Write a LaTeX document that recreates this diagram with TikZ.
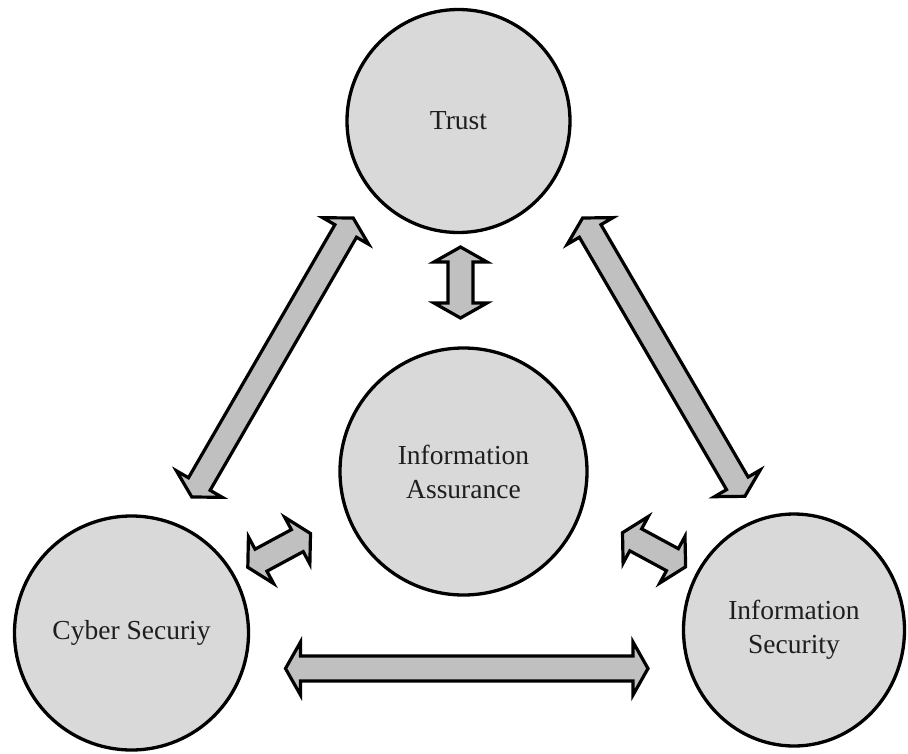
\documentclass[tikz,border=0pt]{standalone}
\usepackage{fontspec}
\setmainfont{Liberation Serif}
\usetikzlibrary{calc,shapes.geometric}
\definecolor{discfill}{RGB}{217,217,217}
\definecolor{arrowfill}{RGB}{192,192,192}
\definecolor{labeltext}{RGB}{30,30,30}

% Block arrow dimensions
\newcommand{\arrowheadlen}{15pt}
\newcommand{\arrowheadhalf}{26.5pt}
\newcommand{\arrowshafthalf}{12.5pt}

% Double-headed block arrow between two named tip coordinates
\newcommand{\blockarrow}[2]{%
  \path ($(#1)!\arrowheadlen!(#2)$) coordinate (#1-h)
        ($(#2)!\arrowheadlen!(#1)$) coordinate (#2-h);
  \draw[arrowbody] (#1)
    -- ($(#1-h)!\arrowheadhalf!90:(#2)$)
    -- ($(#1-h)!\arrowshafthalf!90:(#2)$)
    -- ($(#2-h)!\arrowshafthalf!-90:(#1)$)
    -- ($(#2-h)!\arrowheadhalf!-90:(#1)$)
    -- (#2)
    -- ($(#2-h)!\arrowheadhalf!90:(#1)$)
    -- ($(#2-h)!\arrowshafthalf!90:(#1)$)
    -- ($(#1-h)!\arrowshafthalf!-90:(#2)$)
    -- ($(#1-h)!\arrowheadhalf!-90:(#2)$)
    -- cycle;
}

\begin{document}
\begin{tikzpicture}[x=1pt,y=-1pt,
  disc/.style={circle,draw=black,line width=3.3pt,fill=discfill,inner sep=0pt,
    align=center,text=labeltext,font=\fontsize{27.5}{34}\selectfont},
  arrowbody/.style={draw=black,line width=3.2pt,fill=arrowfill,line join=miter}]
\useasboundingbox (0,0) rectangle (908,753);

% Concepts
\node[disc,minimum size=223pt] (trust) at (458.5,121) {Trust};
\node[disc,minimum size=247pt] (assurance) at (463.5,471.5) {Information\\Assurance};
\node[disc,minimum size=234pt] (cyber) at (131.5,633) {Cyber Securiy};
\node[disc,ellipse,minimum width=221pt,minimum height=232pt] (infosec) at (794,630) {Information\\Security};

% Arrow tips
\coordinate (tl-a) at (353.2,218);
\coordinate (tl-b) at (191.8,497);
\coordinate (tr-a) at (582.6,218);
\coordinate (tr-b) at (744.9,496.3);
\coordinate (tv-a) at (460.5,247);
\coordinate (tv-b) at (460.5,318);
\coordinate (bh-a) at (285.5,668.5);
\coordinate (bh-b) at (648,668.5);
\coordinate (sl-a) at (247.8,567.3);
\coordinate (sl-b) at (310.5,533.5);
\coordinate (sr-a) at (622.5,532.7);
\coordinate (sr-b) at (685.6,566.8);

% Relations
\blockarrow{tl-a}{tl-b}
\blockarrow{tr-a}{tr-b}
\blockarrow{tv-a}{tv-b}
\blockarrow{bh-a}{bh-b}
\blockarrow{sl-a}{sl-b}
\blockarrow{sr-a}{sr-b}
\end{tikzpicture}
\end{document}
